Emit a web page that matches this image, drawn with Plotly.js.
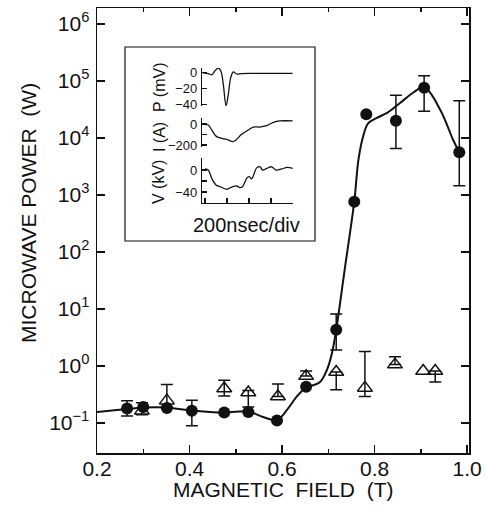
<!DOCTYPE html>
<html>
<head>
<meta charset="utf-8">
<script src="https://cdn.plot.ly/plotly-3.0.1.min.js"></script>
<style>html,body{margin:0;padding:0;background:#fff;}#chart{width:488px;height:512px;}</style>
</head>
<body>
<div id="chart"></div>
<script>
// ---- Main chart data ----
var fieldFilled = [0.265, 0.300, 0.351, 0.405, 0.475, 0.527, 0.589, 0.652, 0.717, 0.756, 0.782, 0.846, 0.907, 0.983];
var powerFilled = [0.178, 0.19, 0.182, 0.162, 0.151, 0.155, 0.11, 0.43, 4.3, 760, 26000, 20000, 76000, 5600];
var filledHigh  = [0.245, null, null, 0.25, null, null, null, null, 8.1, null, null, 56000, 123000, 45000];
var filledLow   = [0.132, null, null, 0.089, null, null, null, null, 1.9, null, null, 6500, 29500, 1450];

var fieldOpen = [0.297, 0.351, 0.475, 0.527, 0.591, 0.652, 0.717, 0.779, 0.844, 0.905, 0.931];
var powerOpen = [0.162, 0.245, 0.40, 0.34, 0.29, 0.66, 0.78, 0.41, 1.05, 0.81, 0.81];
var openHigh  = [0.224, 0.47, 0.56, 0.37, 0.48, 0.81, null, 1.78, 1.45, null, null];
var openLow   = [0.138, 0.19, 0.295, 0.19, null, null, 0.38, 0.29, null, null, 0.52];

var curveField = [0.20, 0.265, 0.30, 0.35, 0.40, 0.475, 0.527, 0.559, 0.589, 0.611, 0.632, 0.652, 0.665, 0.682, 0.697, 0.708, 0.717, 0.735, 0.756, 0.765, 0.775, 0.786, 0.805, 0.827, 0.855, 0.883, 0.907, 0.942, 0.970, 0.983];
var curvePower = [0.155, 0.174, 0.186, 0.186, 0.166, 0.151, 0.158, 0.126, 0.112, 0.17, 0.29, 0.42, 0.45, 0.52, 0.85, 1.7, 4.3, 47, 760, 4100, 10500, 18000, 22500, 27500, 41000, 62000, 78000, 31000, 9100, 5600];

var xTickVals = [0.2, 0.4, 0.6, 0.8, 1.0];
var xTickText = ['0.2', '0.4', '0.6', '0.8', '1.0'];
var xMinorVals = [0.3, 0.5, 0.7, 0.9];
var yTickVals = [0.1, 1, 10, 100, 1000, 10000, 100000, 1000000];
var yTickText = ['10<sup>\u22121</sup>', '10<sup>0</sup>', '10<sup>1</sup>', '10<sup>2</sup>', '10<sup>3</sup>', '10<sup>4</sup>', '10<sup>5</sup>', '10<sup>6</sup>'];

// ---- Inset data (time in ns) ----
var pTime = [-20, 30, 61, 91, 121, 145, 167, 191, 212, 234, 258, 288, 333, 400, 797];
var pValue = [0, -1, -2.5, 2.5, 6, 2, -15, -41, -27, -6, 1, -1.5, -1, -0.7, -0.7];
var iTime = [-21, 30, 61, 106, 152, 197, 252, 282, 333, 379, 439, 494, 561, 621, 682, 797];
var iValue = [-3, -10, -57, -120, -136, -146, -168, -152, -98, -67, -29, -29, -16, 16, 29, 29];
var vTime = [0, 30, 61, 100, 136, 197, 252, 288, 318, 343, 379, 403, 424, 470, 500, 524, 561, 606, 645, 697, 748, 797];
var vValue = [2, 0, -15, -27, -30, -35, -30, -29, -32, -30, -15, -12, -16, 4, 6, 0, 3, 6, 0, 2, 5, 3];
var insetTimeTicks = [0, 200, 400, 600, 800];

function diffs(base, ends, up) {
  return base.map(function (v, i) {
    var e = ends[i];
    if (e === null) return NaN;
    return up ? e - v : v - e;
  });
}

var FONT = 'Liberation Sans, Arial, Helvetica, sans-serif';
var ink = '#111';

var traces = [
  {x: curveField, y: curvePower, type: 'scatter', mode: 'lines',
   line: {color: ink, width: 2, shape: 'spline', smoothing: 1}, hoverinfo: 'skip'},
  {x: fieldOpen, y: powerOpen, type: 'scatter', mode: 'markers',
   marker: {symbol: 'triangle-up-open', size: 13, color: ink, line: {width: 1.5, color: ink}},
   error_y: {type: 'data', symmetric: false, array: diffs(powerOpen, openHigh, true),
             arrayminus: diffs(powerOpen, openLow, false), color: ink, thickness: 1.5, width: 6}},
  {x: fieldFilled, y: powerFilled, type: 'scatter', mode: 'markers',
   marker: {symbol: 'circle', size: 12, color: ink},
   error_y: {type: 'data', symmetric: false, array: diffs(powerFilled, filledHigh, true),
             arrayminus: diffs(powerFilled, filledLow, false), color: ink, thickness: 1.5, width: 6}},
  {x: pTime, y: pValue, xaxis: 'x2', yaxis: 'y2', type: 'scatter', mode: 'lines',
   line: {color: ink, width: 1.3, shape: 'spline'}},
  {x: iTime, y: iValue, xaxis: 'x2', yaxis: 'y3', type: 'scatter', mode: 'lines',
   line: {color: ink, width: 1.3, shape: 'spline'}},
  {x: vTime, y: vValue, xaxis: 'x2', yaxis: 'y4', type: 'scatter', mode: 'lines',
   line: {color: ink, width: 1.3, shape: 'spline'}}
];

var insetY = {showline: true, linecolor: ink, linewidth: 1.2, ticks: 'inside', ticklen: 5,
  tickwidth: 1.2, tickcolor: ink, showgrid: false, zeroline: false, anchor: 'x2',
  tickfont: {family: FONT, size: 13, color: ink}, ticklabelstandoff: 1};

var layout = {
  width: 488, height: 512,
  margin: {l: 97, r: 19, t: 8, b: 59},
  paper_bgcolor: '#fff', plot_bgcolor: '#fff',
  showlegend: false,
  font: {family: FONT, color: ink},
  xaxis: {range: [0.2, 1.004], tickvals: xTickVals, ticktext: xTickText,
    ticks: 'inside', ticklen: 8, tickwidth: 1.5, tickcolor: ink,
    showline: true, linewidth: 1.5, linecolor: ink, mirror: 'ticks',
    showgrid: false, zeroline: false,
    minor: {tickvals: xMinorVals, ticks: 'inside', ticklen: 4, tickwidth: 1.5, tickcolor: ink, showgrid: false},
    tickfont: {family: FONT, size: 21, color: ink}, ticklabelstandoff: -4},
  yaxis: {type: 'log', range: [-1.53, 6.28], tickvals: yTickVals, ticktext: yTickText,
    ticks: 'inside', ticklen: 8, tickwidth: 1.5, tickcolor: ink,
    showline: true, linewidth: 1.5, linecolor: ink, mirror: 'ticks',
    showgrid: false, zeroline: false,
    tickfont: {family: FONT, size: 21, color: ink}, ticklabelstandoff: 2},
  xaxis2: {domain: [0.2823, 0.5269], anchor: 'y4', range: [-27, 800], tickvals: insetTimeTicks,
    showticklabels: false, ticks: 'inside', ticklen: 5, tickwidth: 1.2, tickcolor: ink,
    showline: true, linewidth: 1.2, linecolor: ink, showgrid: false, zeroline: false},
  yaxis2: Object.assign({}, insetY, {domain: [0.7798, 0.8652], range: [-41.5, 6],
    tickvals: [0, -20, -40], ticktext: ['0', '\u221220', '\u221240']}),
  yaxis3: Object.assign({}, insetY, {domain: [0.6876, 0.7528], range: [-219, 57],
    tickvals: [0, -100, -200], ticktext: ['0', '', '\u2212200']}),
  yaxis4: Object.assign({}, insetY, {domain: [0.5618, 0.6629], range: [-60, 22],
    tickvals: [0, -20, -40], ticktext: ['0', '', '\u221240']}),
  shapes: [
    {type: 'rect', xref: 'paper', yref: 'paper', x0: 0.0753, x1: 0.586, y0: 0.4764, y1: 0.9124,
     line: {color: ink, width: 1.2}, fillcolor: '#fff', layer: 'below'}
  ],
  annotations: [
    {text: 'MICROWAVE\u00a0POWER\u00a0\u00a0(W)', xref: 'paper', yref: 'paper', x: -0.1855, y: 0.5393,
     xanchor: 'center', yanchor: 'middle', textangle: -90, showarrow: false,
     font: {family: FONT, size: 21, color: ink}},
    {text: 'MAGNETIC\u00a0\u00a0FIELD\u00a0\u00a0(T)', xref: 'paper', yref: 'paper', x: 0.5, y: -0.0831,
     xanchor: 'center', yanchor: 'middle', showarrow: false,
     font: {family: FONT, size: 21, color: ink}},
    {text: 'P (mV)', xref: 'paper', yref: 'paper', x: 0.1667, y: 0.8202, textangle: -90,
     showarrow: false, xanchor: 'center', yanchor: 'middle', font: {family: FONT, size: 16, color: ink}},
    {text: 'I (A)', xref: 'paper', yref: 'paper', x: 0.1667, y: 0.7101, textangle: -90,
     showarrow: false, xanchor: 'center', yanchor: 'middle', font: {family: FONT, size: 16, color: ink}},
    {text: 'V (kV)', xref: 'paper', yref: 'paper', x: 0.1667, y: 0.609, textangle: -90,
     showarrow: false, xanchor: 'center', yanchor: 'middle', font: {family: FONT, size: 16, color: ink}},
    {text: '200nsec/div', xref: 'paper', yref: 'paper', x: 0.4032, y: 0.5124,
     showarrow: false, xanchor: 'center', yanchor: 'middle', font: {family: FONT, size: 20, color: ink}}
  ]
};

Plotly.newPlot('chart', traces, layout, {displayModeBar: false, staticPlot: true});
</script>
</body>
</html>
